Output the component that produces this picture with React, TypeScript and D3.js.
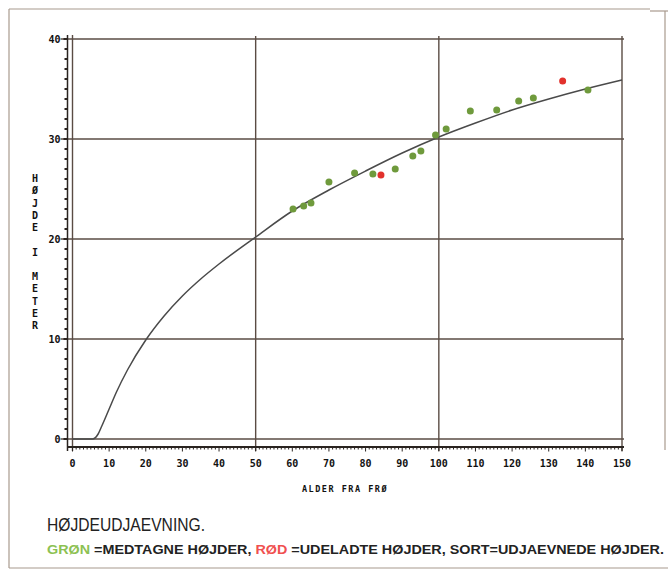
import React from 'react';
import * as d3 from 'd3';

// observed heights (green = used, red = excluded)
const greenAge = [60.2, 63.1, 65.1, 70.0, 77.0, 82.0, 88.1, 92.9, 95.1, 99.1, 102.0, 108.6, 115.8, 121.8, 125.8, 140.7];
const greenHeight = [23.0, 23.3, 23.6, 25.7, 26.6, 26.5, 27.0, 28.3, 28.8, 30.4, 31.0, 32.8, 32.9, 33.8, 34.1, 34.9];
const redAge = [84.2, 133.8];
const redHeight = [26.4, 35.8];

// smoothed height curve (black)
const curveAge = [0, 5.5, 7, 8, 10, 12, 15, 20, 25, 30, 35, 40, 50, 60, 70, 80, 90, 100, 110, 120, 130, 140, 150];
const curveHeight = [0, 0, 0.5, 1.3, 3.0, 4.7, 6.9, 9.9, 12.3, 14.3, 16.0, 17.5, 20.2, 22.8, 24.9, 26.8, 28.6, 30.2, 31.6, 32.9, 34.0, 35.0, 35.9];

const xTicks = d3.range(0, 151, 10);
const yTicks = [0, 10, 20, 30, 40];
const xGrid = [50, 100, 150];

const W = 668;
const H = 570;
const ink = '#5a4c44';
const plotFont = '"DejaVu Sans Mono", monospace';

export default function App() {
  const x = d3.scaleLinear().domain([0, 150]).range([72.5, 622]);
  const y = d3.scaleLinear().domain([0, 40]).range([439, 39]);

  const curvePts: [number, number][] = curveAge.map((a, i) => [a, curveHeight[i]]);
  const line = d3.line<[number, number]>()
    .x(d => x(d[0]))
    .y(d => y(d[1]))
    .curve(d3.curveMonotoneX);

  const rulerY = y(0) + 8;
  const rulerX = x(0) - 5;

  return (
    <svg width={W} height={H} style={{ position: 'absolute', left: 0, top: 0, background: '#fff' }}>
      {/* outer frame */}
      <g stroke="#a89a8e" strokeWidth={1.2} fill="none">
        <line x1={9} y1={9} x2={650} y2={9} />
        <line x1={650} y1={11} x2={668} y2={11} />
        <line x1={9} y1={9} x2={9} y2={568} />
        <line x1={9} y1={568} x2={668} y2={568} />
        <line x1={665} y1={11} x2={665} y2={450} />
      </g>

      {/* grid */}
      <g stroke={ink} strokeWidth={1.4}>
        {yTicks.map(t => (
          <line key={'h' + t} x1={rulerX - 7} x2={x(150) + 2} y1={y(t)} y2={y(t)} />
        ))}
        {xGrid.map(t => (
          <line key={'v' + t} x1={x(t)} x2={x(t)} y1={y(40) - 3} y2={rulerY + 4} />
        ))}
        <line x1={x(0)} x2={x(0)} y1={y(40) - 4} y2={rulerY + 4} />
      </g>

      {/* y ruler */}
      <g stroke="#2a2420">
        <line x1={rulerX} x2={rulerX} y1={y(40) - 4} y2={rulerY + 4} strokeWidth={1.5} />
        {d3.range(0, 41, 1).map(t => (
          <line key={'ym' + t} x1={rulerX - (t % 10 === 0 ? 4 : 3)} x2={rulerX} y1={y(t)} y2={y(t)} strokeWidth={2} />
        ))}
      </g>

      {/* x ruler */}
      <g stroke="#2a2420">
        <line x1={rulerX} x2={x(150) + 2} y1={rulerY} y2={rulerY} strokeWidth={2} />
        {d3.range(0, 151, 1).map(t => (
          <line key={'xm' + t} x1={x(t)} x2={x(t)} y1={rulerY} y2={rulerY + (t % 10 === 0 ? 4.5 : 2.5)} strokeWidth={1} />
        ))}
      </g>

      {/* tick labels */}
      <g fontFamily={plotFont} fontWeight="bold" fontSize={10} fill="#111">
        {yTicks.map(t => (
          <text key={'yl' + t} x={rulerX - 7} y={y(t) + 3.5} textAnchor="end">{t}</text>
        ))}
        {xTicks.map(t => (
          <text key={'xl' + t} x={x(t)} y={rulerY + 20} textAnchor="middle">{t}</text>
        ))}
      </g>

      {/* axis titles */}
      <text x={345} y={492} textAnchor="middle" fontFamily={plotFont} fontWeight="bold" fontSize={8.5} letterSpacing={1.5} fill="#111">
        ALDER FRA FRØ
      </text>
      <g fontFamily={plotFont} fontWeight="bold" fontSize={10} fill="#111" textAnchor="middle">
        {'HØJDE I METER'.split('').map((c, i) => (
          <text key={'yt' + i} x={35} y={182 + i * 12.25}>{c}</text>
        ))}
      </g>

      {/* smoothed curve */}
      <path d={line(curvePts) || ''} fill="none" stroke="#4a4a4a" strokeWidth={1.5} />

      {/* observations */}
      {greenAge.map((a, i) => (
        <circle key={'g' + i} cx={x(a)} cy={y(greenHeight[i])} r={3.5} fill="#6f9a3c" />
      ))}
      {redAge.map((a, i) => (
        <circle key={'r' + i} cx={x(a)} cy={y(redHeight[i])} r={3.5} fill="#e2312c" />
      ))}

      {/* caption */}
      <text x={47} y={531} fontFamily="'Liberation Sans Narrow', 'Liberation Sans', sans-serif" fontSize={19} fill="#222"
        textLength={158} lengthAdjust="spacingAndGlyphs">
        HØJDEUDJAEVNING.
      </text>
      <text x={47} y={554} fontFamily="'Liberation Sans Narrow', 'Liberation Sans', sans-serif" fontSize={13} fontWeight="bold" fill="#222"
        textLength={617} lengthAdjust="spacingAndGlyphs">
        <tspan fill="#8cc152">GRØN</tspan> =MEDTAGNE HØJDER,  <tspan fill="#f05050">RØD</tspan> =UDELADTE HØJDER,  SORT=UDJAEVNEDE HØJDER.
      </text>
    </svg>
  );
}
